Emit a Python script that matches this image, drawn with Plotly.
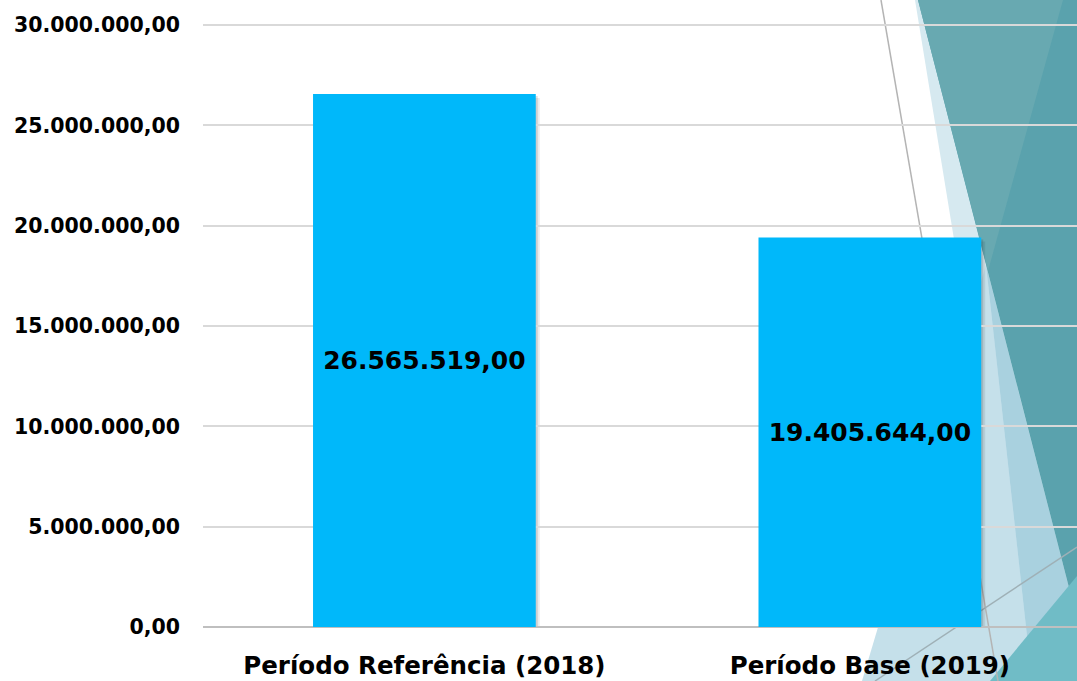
import plotly.graph_objects as go

categories = ["Período Referência (2018)", "Período Base (2019)"]
values = [26565519.00, 19405644.00]
y_ticks = [0, 5000000, 10000000, 15000000, 20000000, 25000000, 30000000]

W, H = 1077, 681
L, R, T, B = 203, 0, 22, 54
PW, PH = W - L - R, H - T - B
YPX = 30000000 / 602.0
YMAX = 30000000 + 3 * YPX

def px(x, y):
    return (x - L) / PW, (H - B - y) / PH

def path(points):
    pts = [px(x, y) for x, y in points]
    s = "M " + " L ".join(f"{a:.5f},{b:.5f}" for a, b in pts) + " Z"
    return s

deco = [
    ([(915, 0), (1077, 0), (1077, 681), (1026, 681)], "#d6e9f0"),
    ([(862, 681), (986, 265), (1032, 681)], "#c5e0ea"),
    ([(986, 265), (1093, 681), (1032, 681)], "#a9d1df"),
    ([(918, 0), (1077, 0), (1077, 681), (1093, 681)], "#5aa2ad"),
    ([(918, 0), (1063, 0), (988, 271)], "#68a9b1"),
    ([(990, 681), (1077, 576), (1077, 681)], "#70bcc6"),
]

shapes = []
for pts, col in deco:
    shapes.append(dict(type="path", xref="paper", yref="paper", path=path(pts),
                       fillcolor=col, line=dict(width=0), layer="below"))

for (x0, y0), (x1, y1), col in [((881, 0), (998, 681), "#b4b4b4"),
                                ((875, 681), (1077, 547), "#9fb0b6")]:
    a0, b0 = px(x0, y0)
    a1, b1 = px(x1, y1)
    shapes.append(dict(type="line", xref="paper", yref="paper", x0=a0, y0=b0, x1=a1, y1=b1,
                       line=dict(color=col, width=1.5), layer="below"))

# soft bar shadows
xu = 445.5
for i, v in enumerate(values):
    for off, op in [(4, 0.08), (2, 0.12)]:
        shapes.append(dict(type="rect", xref="x", yref="y",
                           x0=i - 0.25 + off / xu, x1=i + 0.25 + off / xu,
                           y0=0, y1=v - off * YPX,
                           fillcolor=f"rgba(0,0,0,{op})", line=dict(width=0), layer="below"))

fig = go.Figure()
fig.add_trace(go.Bar(
    x=[0, 1], y=values, width=0.5,
    marker=dict(color="#00B8FA", line=dict(width=0)),
    texttemplate="%{y:,.2f}", textposition="inside", insidetextanchor="middle",
    constraintext="none",
    textfont=dict(family="DejaVu Sans", size=25, color="black", weight="bold"),
    hoverinfo="skip",
))

fig.update_layout(
    width=W, height=H,
    margin=dict(l=L, r=R, t=T, b=B, pad=0),
    paper_bgcolor="white", plot_bgcolor="rgba(0,0,0,0)",
    separators=",.",
    showlegend=False,
    shapes=shapes,
    xaxis=dict(range=[-0.497, 1.465], tickmode="array", tickvals=[0, 1], ticktext=categories,
               showgrid=False, zeroline=False, showline=False, ticks="",
               tickfont=dict(family="DejaVu Sans", size=24.5, color="black", weight="bold"),
               ticklabelstandoff=21),
    yaxis=dict(range=[0, YMAX], tickmode="array", tickvals=y_ticks, tickformat=",.2f",
               showgrid=True, gridcolor="#d9d9d9", gridwidth=2,
               zeroline=True, zerolinecolor="#bfbfbf", zerolinewidth=2,
               showline=False, ticks="",
               tickfont=dict(family="DejaVu Sans", size=20.5, color="black", weight="bold"),
               ticklabelstandoff=22),
)

fig.write_html("out.html", config={"displayModeBar": False},
               post_script="document.body.style.margin='0';document.body.style.overflow='hidden';")
